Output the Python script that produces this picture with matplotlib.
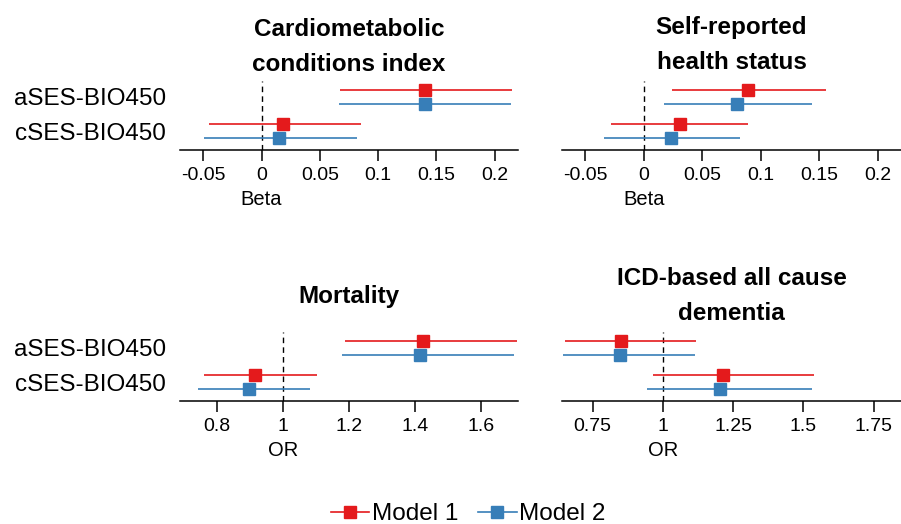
import matplotlib
matplotlib.use("Agg")
import matplotlib.pyplot as plt
from matplotlib.lines import Line2D
from matplotlib.transforms import blended_transform_factory

plt.rcParams['font.family'] = ['Liberation Sans', 'DejaVu Sans']

# data
outcomes = ["Cardiometabolic\nconditions index", "Self-reported\nhealth status",
            "Mortality", "ICD-based all cause\ndementia"]
exposures = ["aSES-BIO450", "cSES-BIO450"]
models = ["Model 1", "Model 2"]

m1_est = [[0.140, 0.018], [0.089, 0.031], [1.425, 0.916], [0.852, 1.214]]
m1_lo = [[0.067, -0.045], [0.024, -0.028], [1.190, 0.763], [0.650, 0.963]]
m1_hi = [[0.215, 0.085], [0.156, 0.089], [1.711, 1.103], [1.119, 1.537]]
m2_est = [[0.140, 0.015], [0.080, 0.023], [1.415, 0.898], [0.846, 1.202]]
m2_lo = [[0.066, -0.049], [0.017, -0.034], [1.181, 0.745], [0.645, 0.944]]
m2_hi = [[0.214, 0.082], [0.144, 0.082], [1.700, 1.084], [1.113, 1.531]]

xlabels = ["Beta", "Beta", "OR", "OR"]
nulls = [0, 0, 1, 1]
xlims = [(-0.07, 0.22), (-0.07, 0.22), (0.689, 1.713), (0.641, 1.847)]
ticks = [[-0.05, 0, 0.05, 0.1, 0.15, 0.2],
         [-0.05, 0, 0.05, 0.1, 0.15, 0.2],
         [0.8, 1, 1.2, 1.4, 1.6],
         [0.75, 1, 1.25, 1.5, 1.75]]
ticklabels = [["-0.05", "0", "0.05", "0.1", "0.15", "0.2"],
              ["-0.05", "0", "0.05", "0.1", "0.15", "0.2"],
              ["0.8", "1", "1.2", "1.4", "1.6"],
              ["0.75", "1", "1.25", "1.5", "1.75"]]

colors = ["#E41A1C", "#377EB8"]

W, H = 901, 524
fig = plt.figure(figsize=(W / 100, H / 100), dpi=100)

# axes boxes in pixels: left, right, bottom (axis line), top
boxes = [(180, 518, 150, 81), (562, 901, 150, 81),
         (180, 518, 401, 332), (562, 901, 401, 332)]
title_y = [47, 45, 297, 296]

for i in range(4):
    l, r, b, t = boxes[i]
    ax = fig.add_axes([l / W, 1 - b / H, (r - l) / W, (b - t) / H])

    rows = [2, 1]
    ests = [m1_est[i], m2_est[i]]
    los = [m1_lo[i], m2_lo[i]]
    his = [m1_hi[i], m2_hi[i]]
    for k in range(2):
        off = 0.2 if k == 0 else -0.2
        for j in range(2):
            e = ests[k][j]
            ax.errorbar(e, rows[j] + off,
                        xerr=[[e - los[k][j]], [his[k][j] - e]],
                        fmt='s', color=colors[k], ms=8, lw=1.2,
                        capsize=0, zorder=3)

    ax.axvline(nulls[i], color='black', ls=(0, (4, 3)), lw=1, zorder=1)

    ax.set_xlim(xlims[i])
    ax.set_ylim(0.46, 2.46)
    ax.set_xticks(ticks[i])
    ax.set_xticklabels(ticklabels[i])
    ax.tick_params(axis='x', direction='out', length=8, width=1.1,
                   labelsize=14, pad=4, colors='black')

    if i % 2 == 0:
        ax.set_yticks(rows)
        ax.set_yticklabels(exposures, fontsize=17.5)
        ax.tick_params(axis='y', length=0, pad=10)
    else:
        ax.set_yticks([])

    for s in ['top', 'right', 'left']:
        ax.spines[s].set_visible(False)
    ax.spines['bottom'].set_linewidth(1.1)
    ax.patch.set_alpha(0)

    ax.set_xlabel(xlabels[i], fontsize=14.5)
    tr = blended_transform_factory(ax.transData, ax.transAxes)
    ax.xaxis.set_label_coords(nulls[i], -0.58, transform=tr)

    fig.text((l + r) / 2 / W, 1 - title_y[i] / H, outcomes[i],
             ha='center', va='center', fontsize=17.5, fontweight='bold',
             linespacing=1.7)

handles = [Line2D([], [], color=colors[k], marker='s', ms=9, lw=1.2)
           for k in range(2)]
fig.legend(handles, models, loc='center', bbox_to_anchor=(468 / W, 1 - 514 / H),
           ncol=2, frameon=False, fontsize=17.5, handlelength=1.6,
           handletextpad=0.1, columnspacing=0.8, borderpad=0)

fig.savefig("out.png", dpi=100)
